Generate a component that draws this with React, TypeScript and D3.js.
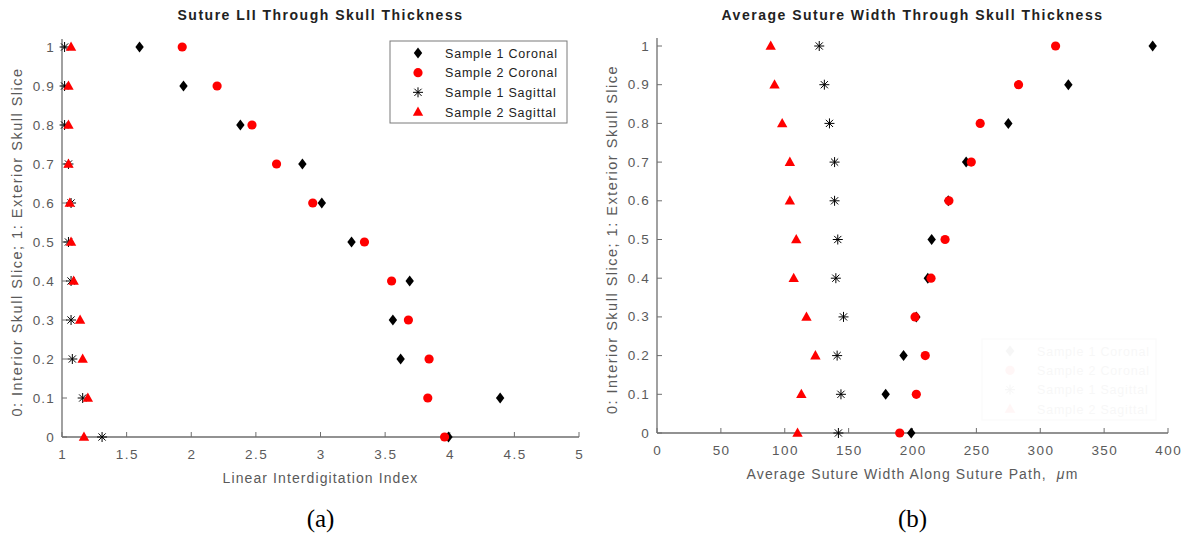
import React from 'react';
import * as d3 from 'd3';

// slice position, 1 = exterior, 0 = interior
const slices = [1, 0.9, 0.8, 0.7, 0.6, 0.5, 0.4, 0.3, 0.2, 0.1, 0];

// (a) linear interdigitation index
const liiS1Coronal = [1.6, 1.94, 2.38, 2.86, 3.01, 3.24, 3.69, 3.56, 3.62, 4.39, 3.99];
const liiS2Coronal = [1.93, 2.2, 2.47, 2.66, 2.94, 3.34, 3.55, 3.68, 3.84, 3.83, 3.96];
const liiS1Sagittal = [1.02, 1.02, 1.02, 1.05, 1.07, 1.05, 1.07, 1.07, 1.08, 1.16, 1.31];
const liiS2Sagittal = [1.07, 1.05, 1.05, 1.05, 1.06, 1.07, 1.09, 1.14, 1.16, 1.2, 1.17];

// (b) average suture width, um
const widthS1Coronal = [388, 322, 275, 242, 228, 215, 212, 203, 193, 179, 199];
const widthS2Coronal = [312, 283, 253, 246, 228.5, 225.5, 214.5, 202, 210, 203, 190];
const widthS1Sagittal = [127, 131, 135, 139, 139, 141.5, 140, 146, 141, 144, 142];
const widthS2Sagittal = [89, 92, 98, 104, 104, 109, 107, 117, 124, 113, 110];

const yTicks = [0, 0.1, 0.2, 0.3, 0.4, 0.5, 0.6, 0.7, 0.8, 0.9, 1];
const xTicksA = [1, 1.5, 2, 2.5, 3, 3.5, 4, 4.5, 5];
const xTicksB = [0, 50, 100, 150, 200, 250, 300, 350, 400];

const seriesNames = ['Sample 1 Coronal', 'Sample 2 Coronal', 'Sample 1 Sagittal', 'Sample 2 Sagittal'];
const seriesKinds = ['diamond', 'circle', 'asterisk', 'triangle'];

const FONT = '"Liberation Sans", Arial, sans-serif';
const AXIS = '#6e6e6e';
const TICKTXT = '#5a5a5a';

function Marker({ kind, x, y }: { kind: string; x: number; y: number }) {
  if (kind === 'diamond') {
    return <path d={`M${x},${y - 5.5}L${x + 4.2},${y}L${x},${y + 5.5}L${x - 4.2},${y}Z`} fill="#000" />;
  }
  if (kind === 'circle') {
    return <circle cx={x} cy={y} r={4.6} fill="#ff0000" />;
  }
  if (kind === 'triangle') {
    return <path d={`M${x},${y - 5.5}L${x + 5.2},${y + 3.8}L${x - 5.2},${y + 3.8}Z`} fill="#ff0000" />;
  }
  const r = 5;
  const d = r * 0.72;
  return (
    <path
      d={`M${x - r},${y}H${x + r}M${x},${y - r}V${y + r}M${x - d},${y - d}L${x + d},${y + d}M${x - d},${y + d}L${x + d},${y - d}`}
      stroke="#000"
      strokeWidth={1}
      fill="none"
    />
  );
}

function Legend({ x, y, w, h, faint }: { x: number; y: number; w: number; h: number; faint?: boolean }) {
  const rowY = d3.scalePoint<number>().domain([0, 1, 2, 3]).range([y + 12, y + h - 11]);
  return (
    <g opacity={faint ? 0.03 : 1}>
      <rect x={x} y={y} width={w} height={h} fill={faint ? 'none' : '#fff'} stroke="#7a7a7a" strokeWidth={1} />
      {seriesNames.map((n, i) => (
        <g key={n}>
          <Marker kind={seriesKinds[i]} x={x + 28} y={rowY(i)!} />
          <text x={x + 55} y={rowY(i)! + 4.5} fontSize={12.5} fontFamily={FONT} fill="#222" letterSpacing={0.8}>{n}</text>
        </g>
      ))}
    </g>
  );
}

function Panel({
  x0, x1, y0, y1, domain, xTicks, series, title, xLabel, yLabelX, caption, children,
}: {
  x0: number; x1: number; y0: number; y1: number; domain: [number, number]; xTicks: number[];
  series: number[][]; title: string; xLabel: React.ReactNode; yLabelX: number; caption: string; children?: React.ReactNode;
}) {
  const x = d3.scaleLinear().domain(domain).range([x0, x1]);
  const y = d3.scaleLinear().domain([0, 1]).range([y0, y1]);
  const cx = (x0 + x1) / 2;
  return (
    <g>
      <text x={cx} y={20} textAnchor="middle" fontSize={14} fontWeight="bold" fontFamily={FONT} fill="#222" letterSpacing={1.5}>{title}</text>
      {children}
      {/* axes */}
      <line x1={x0} x2={x1} y1={y0} y2={y0} stroke={AXIS} strokeWidth={1.3} />
      <line x1={x0} x2={x0} y1={y0} y2={y1 - 8} stroke={AXIS} strokeWidth={1.3} />
      {xTicks.map((t) => (
        <g key={t}>
          <line x1={x(t)} x2={x(t)} y1={y0} y2={y0 - 5} stroke={AXIS} strokeWidth={1} />
          <text x={x(t) + 0.7} y={y0 + 22} textAnchor="middle" fontSize={13.5} fontFamily={FONT} fill={TICKTXT} letterSpacing={1.4}>{t}</text>
        </g>
      ))}
      {yTicks.map((t) => (
        <g key={t}>
          <line x1={x0} x2={x0 + 5} y1={y(t)} y2={y(t)} stroke={AXIS} strokeWidth={1} />
          <text x={x0 - 7} y={y(t) + 4.5} textAnchor="end" fontSize={13.5} fontFamily={FONT} fill={TICKTXT} letterSpacing={1.2}>{t}</text>
        </g>
      ))}
      <text x={cx} y={y0 + 46} textAnchor="middle" fontSize={14} fontFamily={FONT} fill={TICKTXT} letterSpacing={1.1}>{xLabel}</text>
      <text
        transform={`translate(${yLabelX},${(y0 + y1) / 2}) rotate(-90)`}
        textAnchor="middle"
        fontSize={14.5}
        fontFamily={FONT}
        fill={TICKTXT}
        letterSpacing={1.5}
      >
        0: Interior Skull Slice; 1: Exterior Skull Slice
      </text>
      {/* points */}
      {series.map((vals, si) => (
        <g key={si}>
          {vals.map((v, i) => (
            <Marker key={i} kind={seriesKinds[si]} x={x(v)} y={y(slices[i])} />
          ))}
        </g>
      ))}
      <text x={cx} y={527} textAnchor="middle" fontSize={25} fontFamily='"Liberation Serif", "Times New Roman", serif' fill="#000">{caption}</text>
    </g>
  );
}

export default function App() {
  return (
    <svg width={1186} height={537} style={{ position: 'absolute', left: 0, top: 0, background: '#fff' }}>
      <rect width={1186} height={537} fill="#fff" />
      <Panel
        x0={62} x1={579} y0={437} y1={47}
        domain={[1, 5]} xTicks={xTicksA}
        series={[liiS1Coronal, liiS2Coronal, liiS1Sagittal, liiS2Sagittal]}
        title="Suture LII Through Skull Thickness"
        xLabel="Linear Interdigitation Index"
        yLabelX={22}
        caption="(a)"
      />
      <Legend x={390} y={41} w={177} h={82} />
      <Panel
        x0={657} x1={1168} y0={433} y1={46}
        domain={[0, 400]} xTicks={xTicksB}
        series={[widthS1Coronal, widthS2Coronal, widthS1Sagittal, widthS2Sagittal]}
        title="Average Suture Width Through Skull Thickness"
        xLabel={<>Average Suture Width Along Suture Path,&#160;&#160;<tspan fontStyle="italic">μ</tspan>m</>}
        yLabelX={617}
        caption="(b)"
      >
        <Legend x={982} y={339} w={174} h={81} faint />
      </Panel>
    </svg>
  );
}
